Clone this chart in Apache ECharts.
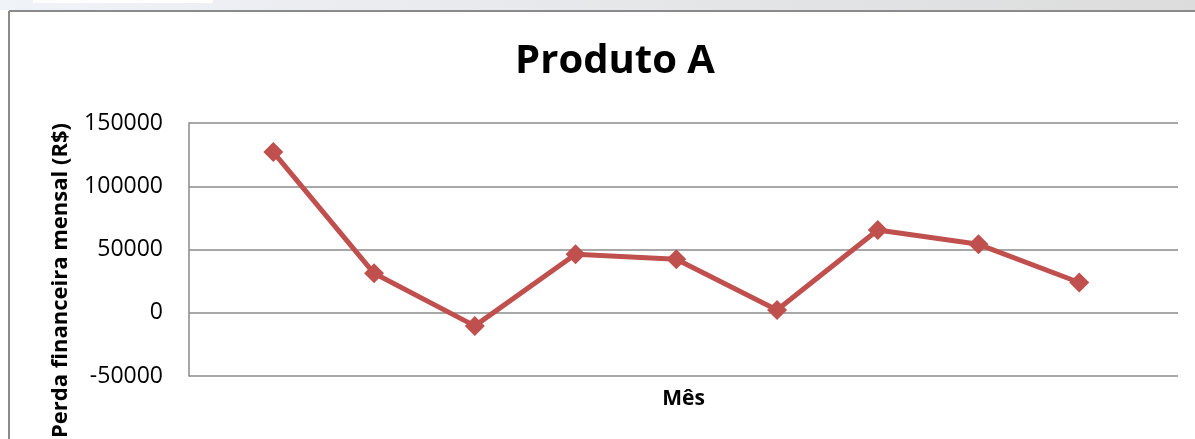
<!DOCTYPE html>
<html>
<head>
<meta charset="utf-8">
<script src="https://cdn.jsdelivr.net/npm/echarts@6/dist/echarts.min.js"></script>
<style>
html,body{margin:0;padding:0;background:#fff;}
#chart{width:1195px;height:439px;}
</style>
</head>
<body>
<div id="chart"></div>
<script>
// Data
var meses = [1, 2, 3, 4, 5, 6, 7, 8, 9];
var perdas = [127000, 31200, -10400, 46200, 42300, 2200, 65400, 54100, 23900];
var yTicks = [-50000, 0, 50000, 100000, 150000];
var titulo = 'Produto A';
var nomeY = 'Perda financeira mensal (R$)';
var nomeX = 'Mês';

var chart = echarts.init(document.getElementById('chart'), null, {renderer: 'canvas'});
var pontos = meses.map(function (m, i) { return [m, perdas[i]]; });
var font = '"Open Sans", "Noto Sans", sans-serif';

chart.setOption({
  animation: false,
  backgroundColor: '#ffffff',
  title: {
    text: titulo,
    left: 610,
    top: 37,
    textAlign: 'center',
    textStyle: {fontFamily: font, fontWeight: 'bold', fontSize: 40, color: '#000'}
  },
  graphic: [
    {type: 'rect', left: 0, top: 0, shape: {width: 1195, height: 10},
     style: {fill: new echarts.graphic.LinearGradient(0, 0, 1, 0, [
       {offset: 0, color: '#f0f3f8'}, {offset: 1, color: '#dcdcdc'}])}, silent: true, z: -10},
    {type: 'rect', left: 33, top: 0, shape: {width: 180, height: 3}, style: {fill: '#ffffff'}, silent: true, z: -9},
    {type: 'line', shape: {x1: 9, y1: 11, x2: 1195, y2: 11}, style: {stroke: '#8a8a8a', lineWidth: 2}, silent: true},
    {type: 'line', shape: {x1: 9, y1: 11, x2: 9, y2: 439}, style: {stroke: '#8a8a8a', lineWidth: 2}, silent: true}
  ],
  grid: {left: 189, top: 123, right: 17, bottom: 63, containLabel: false, outerBoundsMode: 'none'},
  xAxis: {
    type: 'value',
    min: 0.163,
    max: 9.98,
    name: nomeX,
    nameLocation: 'middle',
    nameGap: 13,
    nameTextStyle: {fontFamily: font, fontWeight: 'bold', fontSize: 21, color: '#000'},
    axisLine: {show: false},
    axisTick: {show: false},
    axisLabel: {show: false},
    splitLine: {show: false}
  },
  yAxis: {
    type: 'value',
    min: yTicks[0],
    max: yTicks[yTicks.length - 1],
    interval: 50000,
    name: nomeY,
    nameLocation: 'middle',
    nameGap: 117,
    nameTextStyle: {fontFamily: font, fontWeight: 'bold', fontSize: 22, color: '#000', padding: [0, 62, 0, 0]},
    axisLine: {show: true, lineStyle: {color: '#8a8a8a', width: 1.5}},
    axisTick: {show: false},
    axisLabel: {fontFamily: font, fontSize: 23, color: '#000', margin: 26,
      formatter: function (v) { return String(v); }},
    splitLine: {show: true, lineStyle: {color: '#8a8a8a', width: 1.5}}
  },
  series: [{
    type: 'line',
    data: pontos,
    symbol: 'diamond',
    symbolSize: 20,
    lineStyle: {color: '#c0504d', width: 5},
    itemStyle: {color: '#c0504d'},
    z: 5
  }]
});
</script>
</body>
</html>
